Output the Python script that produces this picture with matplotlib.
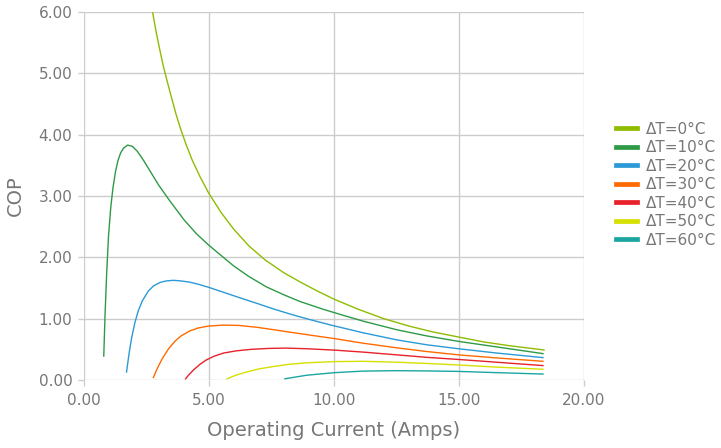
import matplotlib
matplotlib.use("Agg")
import matplotlib.pyplot as plt
from matplotlib.ticker import FormatStrFormatter

labels = ["ΔT=0°C", "ΔT=10°C", "ΔT=20°C", "ΔT=30°C", "ΔT=40°C", "ΔT=50°C", "ΔT=60°C"]
colors = ["#8fbc00", "#2e9a46", "#2b9ad6", "#ff6a00", "#e8212a", "#d6e000", "#1aa5a0"]

i_dt0 = [2.76, 2.9, 3.05, 3.2, 3.35, 3.5, 3.7, 3.9, 4.1, 4.35, 4.65, 5.0, 5.5, 6.0, 6.6, 7.25, 8.0, 8.65, 9.3, 10.0, 11.0, 12.0, 13.0, 14.0, 15.0, 16.0, 17.0, 18.4]
cop_dt0 = [6.00, 5.68, 5.38, 5.10, 4.86, 4.63, 4.33, 4.07, 3.84, 3.58, 3.32, 3.05, 2.73, 2.46, 2.19, 1.96, 1.75, 1.60, 1.46, 1.32, 1.15, 1.00, 0.88, 0.78, 0.70, 0.62, 0.56, 0.49]

i_dt10 = [0.81, 0.86, 0.93, 1.0, 1.09, 1.18, 1.28, 1.38, 1.48, 1.6, 1.76, 1.95, 2.15, 2.4, 2.7, 3.0, 3.45, 4.0, 4.5, 5.0, 5.5, 6.0, 6.6, 7.3, 8.0, 8.65, 9.6, 10.5, 11.17, 12.51, 13.7, 14.98, 16.5, 18.36]
cop_dt10 = [0.39, 1.05, 1.78, 2.35, 2.82, 3.14, 3.40, 3.58, 3.70, 3.78, 3.83, 3.81, 3.73, 3.58, 3.38, 3.18, 2.92, 2.62, 2.39, 2.20, 2.03, 1.86, 1.69, 1.52, 1.39, 1.28, 1.15, 1.04, 0.96, 0.82, 0.72, 0.63, 0.54, 0.43]

i_dt20 = [1.72, 1.82, 1.92, 2.05, 2.19, 2.35, 2.59, 2.8, 3.06, 3.3, 3.59, 3.9, 4.25, 4.6, 5.01, 5.45, 6.25, 7.0, 7.58, 8.3, 8.91, 9.84, 11.17, 12.51, 13.7, 14.98, 16.5, 18.36]
cop_dt20 = [0.13, 0.43, 0.68, 0.93, 1.13, 1.29, 1.45, 1.535, 1.59, 1.615, 1.625, 1.615, 1.595, 1.56, 1.51, 1.45, 1.34, 1.24, 1.16, 1.07, 1.00, 0.90, 0.77, 0.655, 0.575, 0.51, 0.44, 0.365]

i_dt30 = [2.79, 2.95, 3.15, 3.4, 3.65, 3.9, 4.25, 4.6, 5.01, 5.58, 6.2, 6.92, 7.6, 8.25, 9.0, 10.03, 11.17, 12.51, 13.7, 14.98, 16.5, 18.36]
cop_dt30 = [0.04, 0.19, 0.35, 0.51, 0.63, 0.72, 0.80, 0.85, 0.88, 0.895, 0.89, 0.86, 0.82, 0.78, 0.735, 0.675, 0.60, 0.525, 0.465, 0.41, 0.36, 0.305]

i_dt40 = [4.08, 4.2, 4.4, 4.65, 4.9, 5.2, 5.6, 6.1, 6.7, 7.4, 8.1, 8.9, 10.04, 11.17, 12.51, 13.7, 14.98, 16.5, 18.36]
cop_dt40 = [0.02, 0.08, 0.165, 0.255, 0.325, 0.385, 0.44, 0.475, 0.50, 0.515, 0.52, 0.51, 0.487, 0.455, 0.41, 0.37, 0.335, 0.29, 0.235]

i_dt50 = [5.74, 6.1, 6.52, 7.0, 7.58, 8.2, 8.91, 10.04, 11.17, 12.51, 13.7, 14.98, 16.5, 18.36]
cop_dt50 = [0.02, 0.08, 0.13, 0.18, 0.22, 0.255, 0.28, 0.30, 0.305, 0.29, 0.27, 0.245, 0.21, 0.175]

i_dt60 = [8.05, 8.5, 8.91, 9.5, 10.04, 11.17, 12.51, 13.7, 14.98, 16.5, 18.36]
cop_dt60 = [0.02, 0.05, 0.077, 0.10, 0.12, 0.145, 0.152, 0.148, 0.14, 0.12, 0.097]

x_ticks = [0, 5, 10, 15, 20]
y_ticks = [0, 1, 2, 3, 4, 5, 6]

series = [(i_dt0, cop_dt0), (i_dt10, cop_dt10), (i_dt20, cop_dt20), (i_dt30, cop_dt30),
          (i_dt40, cop_dt40), (i_dt50, cop_dt50), (i_dt60, cop_dt60)]

fig = plt.figure(figsize=(7.21, 4.48), dpi=100)
ax = fig.add_axes([83.5 / 721, 1 - 380 / 448, 500.5 / 721, 368 / 448])

for (xs, ys), lab, col in zip(series, labels, colors):
    ax.plot(xs, ys, color=col, lw=1.0, label=lab, solid_joinstyle="round")

ax.set_xlim(0, 20)
ax.set_ylim(0, 6)
ax.set_xticks(x_ticks)
ax.set_yticks(y_ticks)
ax.xaxis.set_major_formatter(FormatStrFormatter("%.2f"))
ax.yaxis.set_major_formatter(FormatStrFormatter("%.2f"))
ax.grid(True, color="#cccccc", lw=1.0)
ax.set_axisbelow(True)
for s in ax.spines.values():
    s.set_visible(False)
ax.tick_params(axis="both", colors="#cccccc", labelcolor="#777777", labelsize=11, length=4.5, width=1.0)
ax.tick_params(axis="x", pad=4.5)
ax.tick_params(axis="y", pad=3.5)

ax.set_xlabel("Operating Current (Amps)", fontsize=14, color="#777777", labelpad=10)
ax.set_ylabel("COP", fontsize=14, color="#777777", labelpad=10)

leg = ax.legend(loc="center left", bbox_to_anchor=(1.064, 0.531), frameon=False,
                fontsize=11, handlelength=1.4, handletextpad=0.53, labelspacing=0.23,
                borderpad=0, borderaxespad=0)
for h in leg.get_lines():
    h.set_linewidth(3.4)
for t in leg.get_texts():
    t.set_color("#777777")

fig.savefig("out.png", dpi=100)
